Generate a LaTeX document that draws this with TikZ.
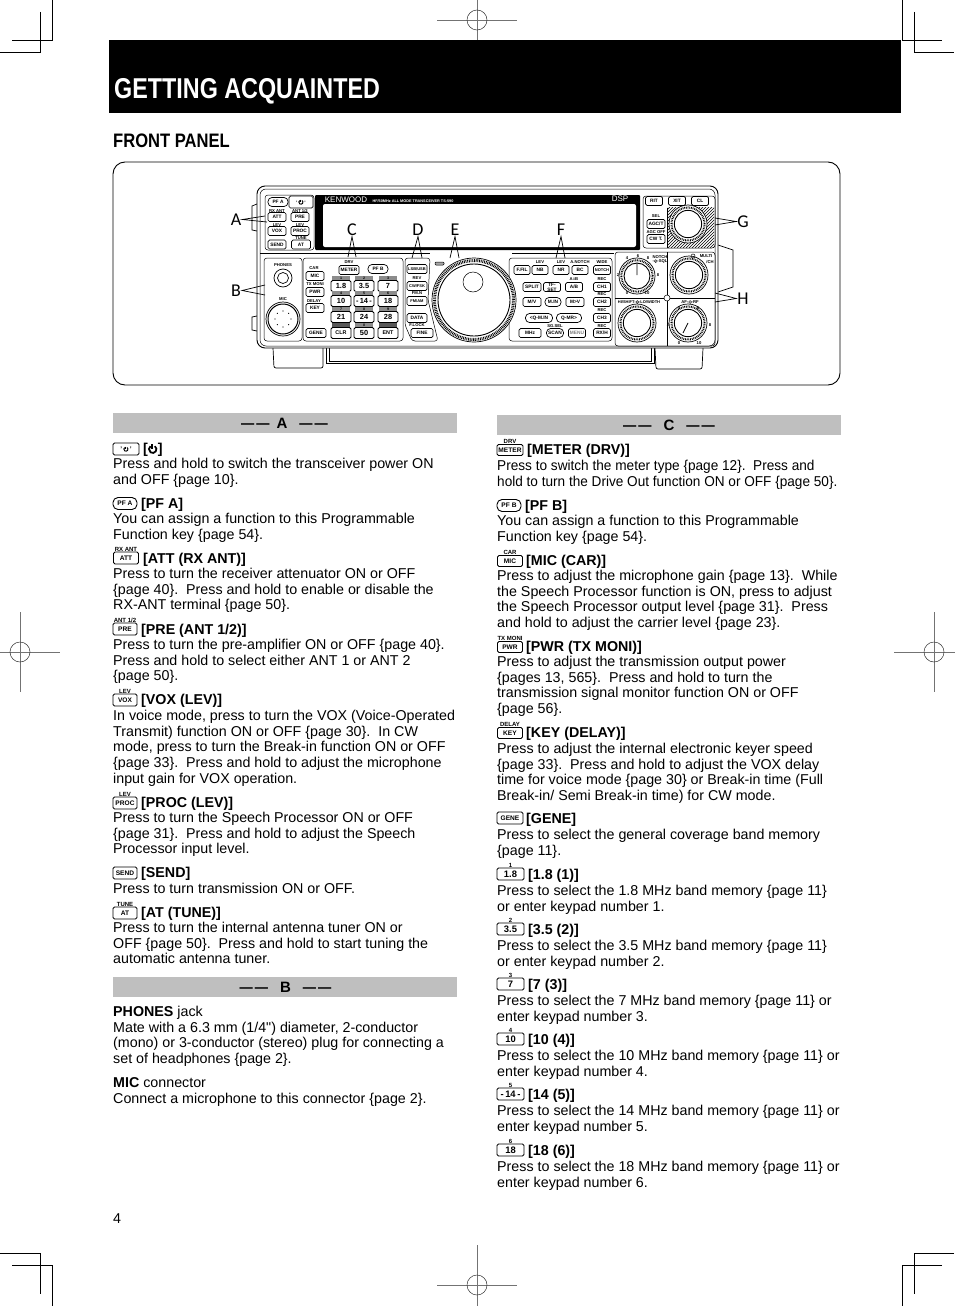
\documentclass[tikz,border=0pt]{standalone}
\usepackage{fontspec}
\setmainfont{Liberation Sans}
\newfontfamily\calloutfont{Carlito}
\newfontfamily\headfont[FakeStretch=0.813]{Liberation Sans}
\newfontfamily\subheadfont[FakeStretch=0.85]{Liberation Sans}
\newfontfamily\plainquote{Liberation Sans}
\usetikzlibrary{patterns}
\tikzset{
	bodytext/.style={anchor=north west,align=left,inner sep=0pt,font=\fontsize{14.27}{15.78}\selectfont},
	headtext/.style={anchor=base west,inner sep=0pt,font=\fontsize{14.27}{16}\selectfont\bfseries},
	barbox/.style={fill=black!25,minimum width=344pt,minimum height=20pt,inner sep=0pt,anchor=north west},
	bartext/.style={inner sep=0pt,font=\fontsize{15}{18}\selectfont\bfseries},
	iconkey/.style={draw,line width=.9pt,rounded corners=1.5pt,minimum width=25pt,minimum height=12pt,inner sep=0pt,font=\fontsize{6.6}{7}\selectfont\bfseries},
	iconoval/.style={iconkey,rounded corners=5pt,minimum width=24pt},
	icontop/.style={inner sep=0pt,font=\fontsize{6}{6}\selectfont\bfseries},
	panelkey/.style={draw,line width=.7pt,rounded corners=1.5pt,minimum height=9pt,inner sep=0pt,fill=white,align=center,font=\fontsize{4.8}{5}\selectfont\bfseries},
	paneloval/.style={panelkey,rounded corners=4pt},
	numkey/.style={panelkey,line width=.9pt,minimum width=20pt,minimum height=11pt,font=\fontsize{7.4}{8}\selectfont\bfseries},
	numtab/.style={fill=black!45,minimum width=18pt,minimum height=4pt,inner sep=0pt,font=\fontsize{3.6}{4}\selectfont\bfseries},
	paneltop/.style={inner sep=0pt,font=\fontsize{4.2}{5}\selectfont\bfseries},
	letter/.style={inner sep=0pt,font=\fontsize{18}{20}\selectfont\calloutfont},
	callout/.style={line width=.7pt},
	crop/.style={line width=.9pt},
	target/.style={line width=.5pt,black!55}
}
% power sign for the key caps and the headings
\newcommand{\pwrmark}[1]{\tikz[x=1pt,y=1pt,baseline=0pt,line width=#1*.16pt]{\draw (.28*#1,.62*#1) arc[start angle=55,end angle=-235,radius=.34*#1]; \draw (0,.78*#1) -- (0,.36*#1);}}
\newcommand{\ringmark}{\tikz[x=1pt,y=1pt,baseline=0pt,line width=.35pt]{\draw (0,1.5) circle[radius=1.5pt]; \fill (0,1.5) circle[radius=.5pt];}}
\newcommand{\bardash}{\scalebox{.88}[1]{—}\hspace{2pt}\scalebox{.88}[1]{—}}
\newcommand{\smallcap}[1]{{\fontsize{4}{5}\selectfont #1}}
\newcommand{\ringknob}[3]{%
	\draw[fill=white,line width=.7pt] (#1,#2) circle[radius=#3 pt];
	\draw[line width=2pt,dash pattern=on .8pt off .9pt] (#1,#2) circle[radius=.87*#3 pt];
	\draw[fill=white,line width=.9pt] (#1,#2) circle[radius=.72*#3 pt];
}
\begin{document}
\begin{tikzpicture}[x=1pt,y=-1pt]
	\useasboundingbox (0,0) rectangle (954,1306);
	% crop marks
	\draw[crop] (52,0) -- (52,40) -- (12,40) (40,12) -- (40,52) -- (0,52);
	\draw[crop] (902,0) -- (902,40) -- (942,40) (914,12) -- (914,52) -- (954,52);
	\draw[crop] (0,1253) -- (40,1253) -- (40,1294) (12,1265) -- (52,1265) -- (52,1306);
	\draw[crop] (954,1253) -- (914,1253) -- (914,1294) (942,1265) -- (902,1265) -- (902,1306);
	\foreach \tx/\ty in {477/20,477/1285,20/652,934/652}{
		\draw[target] (\tx-40,\ty) -- (\tx+40,\ty) (\tx,\ty-40) -- (\tx,\ty+40);
		\draw[target,black!80] (\tx,\ty) circle[radius=10pt];
	}
	% title
	\fill (109,40) rectangle (901,113);
	\node[anchor=base west,inner sep=0pt,text=white,font=\fontsize{28.7}{30}\selectfont\headfont\bfseries] (title) at (114,99) {GETTING ACQUAINTED};
	\node[anchor=base west,inner sep=0pt,font=\fontsize{19.5}{21}\selectfont\subheadfont\bfseries] (subtitle) at (113,147) {FRONT PANEL};
	\draw[line width=.9pt,rounded corners=12pt] (113,162) rectangle (840,385);

	% feet and lower body
	\draw[line width=.7pt,rounded corners=2pt] (273,348) -- (274,368) -- (323,368) -- (323,348);
	\draw[line width=.7pt,rounded corners=2pt] (655,348) -- (656,369) -- (702,369) -- (703,348);
	\draw[line width=.7pt] (326,346) -- (326,363) -- (654,363) -- (654,346) (329,346) -- (329,361) -- (651,361) -- (651,346);
	% side tabs
	\draw[line width=.7pt] (257,204) -- (252,206) -- (252,230) -- (257,231) (257,316) -- (252,317) -- (252,330) -- (257,331);
	\draw[line width=.7pt] (718,245) -- (733,250) -- (733,287) -- (718,292);
	% body
	\draw[line width=.9pt,rounded corners=8pt,fill=white] (257,186) rectangle (718,348);
	\draw[line width=.5pt,rounded corners=6pt] (260,189) rectangle (715,346);
	\draw[line width=.5pt] (260,253) -- (430,253) (512,253) -- (614,253);
	% display
	\fill[rounded corners=1pt] (315,195) rectangle (640,250);
	\fill[white,rounded corners=2pt] (323,204) rectangle (636,247);
	\node[inner sep=0pt,text=white,font=\fontsize{8}{9}\selectfont] (brand) at (346,200) {KENWOOD};
	\node[inner sep=0pt,text=white,font=\fontsize{3.8}{4}\selectfont\bfseries] (model) at (413,201) {HF/50MHz ALL MODE TRANSCEIVER TS-590};
	\node[inner sep=0pt,text=white,font=\fontsize{8}{9}\selectfont] (dsp) at (620,199) {DSP};

	% section frames
	\draw[line width=.5pt,rounded corners=3pt] (265,195) rectangle (314,250);
	\draw[line width=.5pt,rounded corners=3pt] (264,258) rectangle (302,341);
	\draw[line width=.5pt,rounded corners=3pt] (303,258) rectangle (403,341);
	\draw[line width=.5pt,rounded corners=3pt] (405,258) -- (430,258) -- (428,300) -- (438,341) -- (412,341) -- (405,325) -- cycle;
	\draw[line width=.5pt,rounded corners=3pt] (509,258) rectangle (612,341);
	\draw[line width=.5pt,rounded corners=3pt] (643,196) rectangle (715,248);
	\draw[line width=.5pt,rounded corners=3pt] (615,252) rectangle (715,346);

	% dial
	\draw[line width=.7pt,fill=white] (474,300) circle[radius=42pt];
	\draw[line width=3pt,dash pattern=on .8pt off .9pt] (474,300) circle[radius=39.5pt];
	\draw[line width=.9pt,fill=white] (474,300) circle[radius=36pt];
	\draw[line width=.5pt] (473,282) circle[radius=10pt];
	\draw[line width=.5pt,fill=black!35,rounded corners=1pt] (435,262) rectangle (444,265);

	% hatched ground of the G knob
	\fill[pattern=north east lines] (667,207) -- (714,207) -- (714,247) -- (667,247) -- cycle;
	\draw[line width=.7pt] (667,208) -- (667,248);
	\ringknob{688}{224}{19}
	% H section rules and knobs
	\draw[line width=.7pt] (667,252) -- (667,346) (615,298) -- (715,298);
	\node[draw,circle,fill=white,minimum size=6pt,inner sep=0pt,line width=.5pt] (centre) at (667,298) {};
	\ringknob{637}{276}{18}
	\ringknob{689}{275}{19}
	\ringknob{637}{323}{19}
	\ringknob{688}{323}{19}
	\draw[line width=.8pt] (637,263) -- (637,275) (688,323) -- (683,333);
	\node[draw,circle,minimum size=4pt,inner sep=0pt,line width=.5pt] (led) at (693,256) {};
	\foreach \nn/\nx/\ny/\nt in {a/618/275/2,b/627/258/4,c/638/256/6,d/648/258/8,e/658/275/8,f/627/293/0,g/647/293/10,h/668/325/2,i/679/308/4,j/698/308/6,k/710/325/8,l/679/343/0,m/699/343/10}{
		\node[paneltop] (n\nn) at (\nx,\ny) {\nt};
	}

	% keys
	\foreach \kn/\kx/\ky/\kw/\kt in {att/277/217/18/ATT,pre/300/217/18/PRE,vox/277/231/18/VOX,proc/300/231/18/PROC,send/277/244.5/18/SEND,at/301/244.5/19/AT,
		mic/315/276/18/MIC,pwr/315/292/18/PWR,key/315/308/18/KEY,gene/316/333/20/GENE,meter/349/270/20/METER,
		lsb/417/269/20/{\smallcap{LSB/USB}},cw/417/286/20/{\smallcap{CW/FSK}},fm/417/301/20/{\smallcap{FM/AM}},data/417/318/20/DATA,fine/422/333/22/FINE,
		fil/522/270/16/F.FIL,nb/540/270/16/NB,nr/561/270/16/NR,bc/580/270/16/BC,notch/602/270/17/{\smallcap{NOTCH}},
		split/532/287/18/SPLIT,tf/552/287/17/{TF-\\SET},ab/574/287/17/{A/B},ch1/602/287/17/CH1,
		mv/532/302/18/{M/V},mtov/575/302/18/{M>V},ch2/602/302/17/CH2,ch3/602/318/17/CH3,
		mhz/530/333/22/MHz,rxh/602/333/17/{RX/H},rit/654/201/17/RIT,xit/677/201/17/XIT,cl/700/201/17/CL,
		agc/656/224/18/{AGC/T},cwt/656/239/18/CW T.}{
		\node[panelkey,minimum width=\kw pt] (k\kn) at (\kx,\ky) {\kt};
	}
	\node[panelkey,minimum width=24pt,minimum height=12pt] (kpower) at (301,202) {'\,\pwrmark{6}\,'};
	\node[paneloval,minimum width=20pt] (kpfa) at (278,202) {PF A};
	\node[paneloval,minimum width=20pt] (kpfb) at (378,269) {PF B};
	\node[paneloval,minimum width=16pt] (kmin) at (553,302) {M.IN};
	\node[paneloval,minimum width=27pt] (kqmin) at (539,318) {<Q-M.IN};
	\node[paneloval,minimum width=25pt] (kqmr) at (569,318) {Q-MR>};
	\node[paneloval,minimum width=17pt] (kscan) at (555,333) {SCAN};
	\node[panelkey,minimum width=17pt,text=black!50] (kmenu) at (577,333) {MENU};
	% captions above the keys
	\foreach \cn/\cx/\cy/\ct in {a/277/211/RX ANT,b/300/211/{ANT 1/2},c/277/225/LEV,d/300/225/LEV,e/301/238/TUNE,
		f/283/265/PHONES,g/283/299/MIC,h/314/268/CAR,i/315/284/TX MONI,j/314/301/DELAY,k/349/262/DRV,
		l/417/278/REV,m/417/293/FM.N,n/417/325/F.LOCK,
		o/540/262/LEV,p/561/262/LEV,q/580/262/A.NOTCH,r/602/262/WIDE,s/574/279/A=B,t/602/279/REC,u/602/294/REC,v/602/310/REC,w/602/326/REC,x/555/326/SG.SEL,
		y/656/216/SEL,z/656/232/AGC OFF,aa/660/257/NOTCH,ab/660/261.5/-\ringmark-SQL,ac/706/256/MULTI,ad/710/262/{/CH},ae/639/302/{\smallcap{HI/SHIFT-\ringmark-LO/WIDTH}},af/690/302/AF-\ringmark-RF}{
		\node[paneltop] (c\cn) at (\cx,\cy) {\ct};
	}
	% number pad
	\foreach \pn/\px/\py/\pt/\pc in {a/341/286/1.8/1,b/364/286/3.5/2,c/388/286/7/3,d/341/301/10/4,e/364/301/{-\,14\,-}/5,f/388/301/18/6,g/341/317/21/7,h/364/317/24/8,i/388/317/28/9,k/364/333/50/0}{
		\node[numtab] (t\pn) at (\px,\py-8) {\pc};
		\node[numkey] (p\pn) at (\px,\py) {\pt};
	}
	\foreach \pn/\px/\pt in {j/341/CLR,l/388/ENT}{
		\node[numtab,fill=black!65] (t\pn) at (\px,325) {};
		\node[numkey,font=\fontsize{5.4}{6}\selectfont\bfseries] (p\pn) at (\px,333) {\pt};
	}
	% jacks
	\draw[line width=.7pt] (283,278) circle[radius=9pt] (283,278) circle[radius=5.5pt];
	\draw[line width=.7pt] (283,319) circle[radius=17pt];
	\draw[line width=1pt] (283,319) circle[radius=15pt];
	\foreach \pa in {0,45,...,315}{
		\fill ({283+8*cos(\pa)},{319+8*sin(\pa)}) circle[radius=.6pt];
	}

	% call-outs
	\node[letter] (lblA) at (236,219.5) {A};
	\node[letter] (lblB) at (236,290.5) {B};
	\node[letter] (lblC) at (352,229.5) {C};
	\node[letter] (lblD) at (418,229.5) {D};
	\node[letter] (lblE) at (455,229.5) {E};
	\node[letter] (lblF) at (561,229.5) {F};
	\node[letter] (lblG) at (743,221.5) {G};
	\node[letter] (lblH) at (743,298.5) {H};
	\coordinate (endA1) at (265,216);
	\coordinate (endA2) at (267,222);
	\coordinate (endB1) at (265,285);
	\coordinate (endB2) at (265,295);
	\coordinate (endC1) at (348,257);
	\coordinate (endC2) at (356,257);
	\coordinate (endD1) at (412,258);
	\coordinate (endD2) at (422,258);
	\coordinate (endE1) at (450,258);
	\coordinate (endE2) at (459,258);
	\coordinate (endF1) at (556,258);
	\coordinate (endF2) at (565,258);
	\coordinate (endG1) at (715,218);
	\coordinate (endG2) at (715,225);
	\coordinate (endH1) at (715,293);
	\coordinate (endH2) at (715,302);
	\draw[callout] (endA1) -- ([xshift=1pt]lblA.east) -- (endA2);
	\draw[callout] (endB1) -- ([xshift=1pt]lblB.east) -- (endB2);
	\draw[callout] (endC1) -- ([yshift=-1pt]lblC.south) -- (endC2);
	\draw[callout] (endD1) -- ([yshift=-1pt]lblD.south) -- (endD2);
	\draw[callout] (endE1) -- ([yshift=-1pt]lblE.south) -- (endE2);
	\draw[callout] (endF1) -- ([yshift=-1pt]lblF.south) -- (endF2);
	\draw[callout] (endG1) -- ([xshift=-1pt]lblG.west) -- (endG2);
	\draw[callout] (endH1) -- ([xshift=-1pt]lblH.west) -- (endH2);

	% left column
	\node[barbox] (barA) at (113,413) {};
	\node[bartext] (capA) at (284.5,423) {\bardash\hspace{7pt}A\hspace{12pt}\bardash};
	\node[iconkey,minimum width=26pt] (iPower) at (126,449) {'\,\pwrmark{6}\,'};
	\node[headtext] (hPower) at (143,453) {[\pwrmark{11}]};
	\node[bodytext] (bPower) at (113,457) {\strut Press and hold to switch the transceiver power ON\\and OFF \{page 10\}.};
	\node[iconoval] (iPfa) at (125,503.5) {PF A};
	\node[headtext] (hPfa) at (141,508) {[PF A]};
	\node[bodytext] (bPfa) at (113,512) {\strut You can assign a function to this Programmable\\Function key \{page 54\}.};
	\node[iconkey] (iAtt) at (126,558) {ATT};
	\node[icontop] (tAtt) at (126,549) {RX ANT};
	\node[headtext] (hAtt) at (143,563) {[ATT (RX ANT)]};
	\node[bodytext] (bAtt) at (113,567) {\strut Press to turn the receiver attenuator ON or OFF\\\{page 40\}.\ \ Press and hold to enable or disable the\\RX-ANT terminal \{page 50\}.};
	\node[iconkey,minimum width=24pt] (iPre) at (125,629) {PRE};
	\node[icontop] (tPre) at (125,620) {ANT 1/2};
	\node[headtext] (hPre) at (141,634) {[PRE (ANT 1/2)]};
	\node[bodytext] (bPre) at (113,638) {\strut Press to turn the pre-amplifier ON or OFF \{page 40\}.\\Press and hold to select either ANT 1 or ANT 2\\\{page 50\}.};
	\node[iconkey,minimum width=24pt] (iVox) at (125,700) {VOX};
	\node[icontop] (tVox) at (125,691) {LEV};
	\node[headtext] (hVox) at (141,704) {[VOX (LEV)]};
	\node[bodytext] (bVox) at (113,709) {\strut In voice mode, press to turn the VOX (Voice-Operated\\Transmit) function ON or OFF \{page 30\}.\ \ In CW\\mode, press to turn the Break-in function ON or OFF\\\{page 33\}.\ \ Press and hold to adjust the microphone\\input gain for VOX operation.};
	\node[iconkey,minimum width=24pt] (iProc) at (125,803) {PROC};
	\node[icontop] (tProc) at (125,794) {LEV};
	\node[headtext] (hProc) at (141,807) {[PROC (LEV)]};
	\node[bodytext] (bProc) at (113,811) {\strut Press to turn the Speech Processor ON or OFF\\\{page 31\}.\ \ Press and hold to adjust the Speech\\Processor input level.};
	\node[iconkey,minimum width=24pt] (iSend) at (125,873) {SEND};
	\node[headtext] (hSend) at (141,877) {[SEND]};
	\node[bodytext] (bSend) at (113,882) {\strut Press to turn transmission ON or OFF.};
	\node[iconkey,minimum width=24pt] (iAt) at (125,913) {AT};
	\node[icontop] (tAt) at (125,904) {TUNE};
	\node[headtext] (hAt) at (141,917) {[AT (TUNE)]};
	\node[bodytext] (bAt) at (113,921) {\strut Press to turn the internal antenna tuner ON or\\OFF \{page 50\}.\ \ Press and hold to start tuning the\\automatic antenna tuner.};
	\node[barbox] (barB) at (113,977) {};
	\node[bartext] (capB) at (285.5,987) {\bardash\hspace{12pt}B\hspace{12pt}\bardash};
	\node[bodytext] (bPhones) at (113,1005) {\strut\textbf{PHONES} jack\\Mate with a 6.3 mm (1/4{\plainquote"}) diameter, 2-conductor\\(mono) or 3-conductor (stereo) plug for connecting a\\set of headphones \{page 2\}.};
	\node[bodytext] (bMic) at (113,1076) {\strut\textbf{MIC} connector\\Connect a microphone to this connector \{page 2\}.};
	\node[bodytext] (pageno) at (113,1212) {\strut 4};

	% right column
	\node[barbox] (barC) at (497,415) {};
	\node[bartext] (capC) at (669,425) {\bardash\hspace{12pt}C\hspace{12pt}\bardash};
	\node[iconkey,minimum width=26pt,minimum height=11pt] (iMeter) at (510,450) {METER};
	\node[icontop] (tMeter) at (510,441) {DRV};
	\node[headtext] (hMeter) at (527,454) {[METER (DRV)]};
	\node[bodytext] (bMeter) at (497,459) {\strut\scalebox{.955}[1]{Press to switch the meter type \{page 12\}.\ \ Press and}\\\scalebox{.953}[1]{hold to turn the Drive Out function ON or OFF \{page 50\}.}};
	\node[iconoval] (iPfb) at (509,505.5) {PF B};
	\node[headtext] (hPfb) at (525,510) {[PF B]};
	\node[bodytext] (bPfb) at (497,514) {\strut You can assign a function to this Programmable\\Function key \{page 54\}.};
	\node[iconkey,minimum height=11pt] (iMic) at (510,561) {MIC};
	\node[icontop] (tMic) at (510,552.5) {CAR};
	\node[headtext] (hMic) at (526,565) {[MIC (CAR)]};
	\node[bodytext] (bMicc) at (497,569) {\strut Press to adjust the microphone gain \{page 13\}.\ \ While\\the Speech Processor function is ON, press to adjust\\the Speech Processor output level \{page 31\}.\ \ Press\\and hold to adjust the carrier level \{page 23\}.};
	\node[iconkey,minimum height=11pt] (iPwr) at (510,647) {PWR};
	\node[icontop] (tPwr) at (510,638.5) {TX MONI};
	\node[headtext] (hPwr) at (526,651) {[PWR (TX MONI)]};
	\node[bodytext] (bPwr) at (497,655) {\strut Press to adjust the transmission output power\\\{pages 13, 565\}.\ \ Press and hold to turn the\\transmission signal monitor function ON or OFF\\\{page 56\}.};
	\node[iconkey,minimum height=11pt] (iKey) at (510,733) {KEY};
	\node[icontop] (tKey) at (510,724.5) {DELAY};
	\node[headtext] (hKey) at (526,737) {[KEY (DELAY)]};
	\node[bodytext] (bKey) at (497,742) {\strut Press to adjust the internal electronic keyer speed\\\{page 33\}.\ \ Press and hold to adjust the VOX delay\\time for voice mode \{page 30\} or Break-in time (Full\\Break-in/ Semi Break-in time) for CW mode.};
	\node[iconkey,minimum width=26pt] (iGene) at (510,818) {GENE};
	\node[headtext] (hGene) at (526,823) {[GENE]};
	\node[bodytext] (bGene) at (497,828) {\strut Press to select the general coverage band memory\\\{page 11\}.};
	\foreach \bn/\by/\bk/\bt/\bh/\bs/\bw in {
		a/874/1.8/1/1.8 (1)/1.8 MHz band memory \{page 11\}/or enter keypad number 1.,
		b/929/3.5/2/3.5 (2)/3.5 MHz band memory \{page 11\}/or enter keypad number 2.,
		c/984/7/3/7 (3)/7 MHz band memory \{page 11\} or/enter keypad number 3.,
		d/1039/10/4/10 (4)/10 MHz band memory \{page 11\} or/enter keypad number 4.,
		e/1094/{-\,14\,-}/5/14 (5)/14 MHz band memory \{page 11\} or/enter keypad number 5.,
		f/1150/18/6/18 (6)/18 MHz band memory \{page 11\} or/enter keypad number 6.}{
		\node[iconkey,minimum width=27pt,font=\fontsize{9.4}{10}\selectfont\bfseries] (iBand\bn) at (510.5,\by) {\bk};
		\node[icontop] (tBand\bn) at (510.5,\by-9) {\bt};
		\node[headtext] (hBand\bn) at (528,\by+5) {[\bh]};
		\node[bodytext] (bBand\bn) at (497,\by+10) {\strut Press to select the \bs\\\bw};
	}
\end{tikzpicture}
\end{document}
